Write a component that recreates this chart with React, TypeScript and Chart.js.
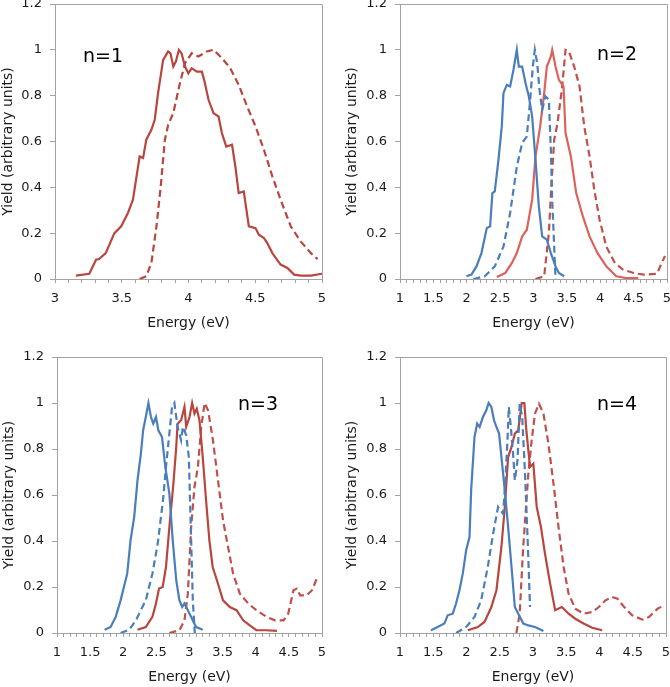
import React, { useEffect, useRef } from 'react';
import { Chart, registerables } from 'chart.js';

Chart.register(...registerables);

type Pt = [number, number];

// ---------- data (Energy eV, Yield) ----------
const n1RedSolid: Pt[] = [[3.156,0.015],[3.257,0.023],[3.307,0.084],[3.33,0.087],[3.38,0.113],[3.445,0.2],[3.496,0.23],[3.546,0.288],[3.584,0.346],[3.634,0.535],[3.66,0.528],[3.684,0.608],[3.722,0.651],[3.747,0.695],[3.772,0.811],[3.81,0.956],[3.848,0.993],[3.865,0.985],[3.886,0.927],[3.906,0.95],[3.928,1.0],[3.948,0.985],[3.974,0.927],[3.999,0.898],[4.024,0.92],[4.062,0.905],[4.1,0.905],[4.117,0.869],[4.15,0.782],[4.187,0.724],[4.225,0.709],[4.25,0.637],[4.283,0.578],[4.326,0.586],[4.351,0.491],[4.376,0.375],[4.414,0.382],[4.452,0.23],[4.502,0.222],[4.527,0.193],[4.565,0.179],[4.59,0.157],[4.628,0.113],[4.69,0.063],[4.741,0.048],[4.791,0.019],[4.84,0.015],[4.917,0.015],[5.0,0.023]];
const n1RedDashed: Pt[] = [[3.634,0],[3.684,0.012],[3.722,0.07],[3.76,0.23],[3.792,0.404],[3.823,0.608],[3.848,0.673],[3.886,0.724],[3.936,0.855],[3.974,0.942],[4.024,0.985],[4.074,0.971],[4.137,0.993],[4.187,1.0],[4.25,0.964],[4.313,0.92],[4.376,0.847],[4.439,0.753],[4.502,0.666],[4.565,0.564],[4.628,0.448],[4.69,0.346],[4.766,0.23],[4.84,0.164],[4.917,0.113],[4.967,0.087]];

const n2BlueSolid: Pt[] = [[1.995,0.012],[2.07,0.019],[2.146,0.055],[2.22,0.113],[2.3,0.222],[2.35,0.23],[2.384,0.375],[2.42,0.382],[2.475,0.52],[2.525,0.666],[2.55,0.811],[2.6,0.847],[2.65,0.84],[2.7,0.913],[2.75,1.0],[2.78,0.927],[2.83,0.927],[2.88,0.855],[2.93,0.797],[2.98,0.709],[3.03,0.52],[3.08,0.317],[3.13,0.186],[3.2,0.172],[3.26,0.113],[3.33,0.055],[3.38,0.026],[3.46,0.012]];
const n2BlueDashed: Pt[] = [[2.1,0],[2.27,0.012],[2.42,0.055],[2.55,0.142],[2.65,0.288],[2.75,0.49],[2.83,0.593],[2.9,0.622],[2.95,0.782],[2.99,0.927],[3.02,1.0],[3.055,0.942],[3.09,0.826],[3.13,0.738],[3.18,0.797],[3.23,0.782],[3.26,0.564],[3.28,0.346],[3.31,0.142],[3.33,0]];
const n2RedSolid: Pt[] = [[2.45,0.009],[2.576,0.026],[2.677,0.07],[2.75,0.113],[2.83,0.186],[2.9,0.215],[2.98,0.346],[3.03,0.535],[3.1,0.666],[3.16,0.811],[3.2,0.927],[3.26,0.971],[3.28,1.0],[3.33,0.927],[3.38,0.869],[3.45,0.84],[3.48,0.637],[3.56,0.535],[3.64,0.375],[3.74,0.273],[3.84,0.186],[3.96,0.113],[4.09,0.055],[4.24,0.012],[4.39,0.004],[4.57,0.004]];
const n2RedDashed: Pt[] = [[3.03,0],[3.16,0.012],[3.23,0.2],[3.27,0.419],[3.31,0.608],[3.36,0.68],[3.43,0.84],[3.48,1.0],[3.53,0.993],[3.61,0.927],[3.69,0.84],[3.76,0.666],[3.84,0.535],[3.91,0.39],[3.99,0.259],[4.09,0.142],[4.22,0.07],[4.34,0.041],[4.5,0.026],[4.65,0.019],[4.85,0.023],[4.92,0.07],[4.97,0.1]];

const n3BlueSolid: Pt[] = [[1.72,0.014],[1.81,0.026],[1.886,0.07],[1.96,0.142],[2.01,0.2],[2.06,0.258],[2.11,0.403],[2.165,0.504],[2.215,0.664],[2.266,0.78],[2.3,0.881],[2.34,0.939],[2.38,1.0],[2.418,0.939],[2.453,0.91],[2.494,0.939],[2.53,0.881],[2.585,0.852],[2.635,0.722],[2.696,0.606],[2.747,0.403],[2.8,0.229],[2.848,0.142],[2.89,0.113],[2.924,0.128],[2.975,0.099],[3.025,0.07],[3.1,0.026],[3.2,0.014]];
const n3BlueDashed: Pt[] = [[1.96,0],[2.09,0.014],[2.19,0.055],[2.34,0.142],[2.44,0.258],[2.52,0.388],[2.6,0.577],[2.645,0.722],[2.696,0.867],[2.737,0.983],[2.772,1.0],[2.82,0.896],[2.873,0.838],[2.9,0.896],[2.95,0.86],[2.99,0.765],[3.025,0.403],[3.05,0.142],[3.08,0]];
const n3RedSolid: Pt[] = [[2.215,0.014],[2.34,0.026],[2.44,0.07],[2.494,0.128],[2.54,0.193],[2.595,0.2],[2.645,0.287],[2.696,0.46],[2.757,0.649],[2.8,0.809],[2.82,0.91],[2.873,0.925],[2.924,0.983],[2.95,0.896],[3.0,0.939],[3.04,1.0],[3.075,0.954],[3.11,0.975],[3.15,0.925],[3.2,0.765],[3.25,0.577],[3.3,0.403],[3.35,0.287],[3.43,0.214],[3.506,0.142],[3.608,0.113],[3.71,0.099],[3.81,0.055],[3.91,0.033],[4.01,0.012],[4.16,0.012],[4.32,0.009]];
const n3RedDashed: Pt[] = [[2.696,0],[2.85,0.012],[2.924,0.055],[2.975,0.171],[3.025,0.46],[3.075,0.635],[3.127,0.722],[3.177,0.896],[3.228,1.0],[3.28,0.968],[3.354,0.838],[3.43,0.664],[3.506,0.49],[3.582,0.374],[3.658,0.258],[3.76,0.171],[3.886,0.128],[4.01,0.099],[4.165,0.07],[4.29,0.055],[4.42,0.055],[4.49,0.084],[4.57,0.186],[4.62,0.193],[4.67,0.164],[4.77,0.164],[4.85,0.186],[4.92,0.236]];

const n4BlueSolid: Pt[] = [[1.465,0.012],[1.566,0.026],[1.667,0.041],[1.717,0.077],[1.793,0.084],[1.843,0.128],[1.894,0.186],[1.944,0.258],[1.995,0.36],[2.045,0.417],[2.07,0.62],[2.12,0.852],[2.16,0.91],[2.197,0.896],[2.247,0.939],[2.298,0.968],[2.333,1.0],[2.374,0.983],[2.414,0.925],[2.45,0.896],[2.49,0.867],[2.525,0.765],[2.576,0.62],[2.626,0.46],[2.677,0.287],[2.727,0.113],[2.778,0.084],[2.854,0.041],[2.93,0.033],[3.03,0.026],[3.157,0.009]];
const n4BlueDashed: Pt[] = [[1.843,0],[1.995,0.026],[2.12,0.07],[2.22,0.142],[2.32,0.287],[2.4,0.432],[2.475,0.548],[2.55,0.519],[2.586,0.664],[2.616,0.838],[2.636,0.983],[2.667,0.896],[2.7,0.78],[2.727,0.664],[2.767,0.75],[2.8,0.997],[2.838,0.939],[2.88,0.693],[2.92,0.403],[2.955,0.113]];
const n4RedSolid: Pt[] = [[2.02,0.012],[2.17,0.026],[2.27,0.048],[2.374,0.113],[2.45,0.186],[2.525,0.374],[2.576,0.548],[2.626,0.765],[2.677,0.809],[2.727,0.867],[2.778,0.881],[2.83,1.0],[2.87,1.0],[2.9,0.881],[2.955,0.722],[3.005,0.736],[3.056,0.548],[3.12,0.46],[3.18,0.345],[3.258,0.214],[3.333,0.099],[3.434,0.113],[3.535,0.084],[3.636,0.062],[3.76,0.041],[3.89,0.023],[4.04,0.012]];
const n4RedDashed: Pt[] = [[2.75,0],[2.8,0.084],[2.85,0.36],[2.93,0.693],[2.98,0.838],[3.03,0.954],[3.09,0.997],[3.157,0.954],[3.232,0.823],[3.308,0.65],[3.384,0.46],[3.46,0.287],[3.535,0.171],[3.636,0.106],[3.76,0.084],[3.89,0.091],[3.99,0.113],[4.09,0.142],[4.19,0.157],[4.27,0.149],[4.37,0.113],[4.49,0.077],[4.646,0.058],[4.747,0.07],[4.874,0.106],[4.975,0.12]];

const panelLabels = ['n=1', 'n=2', 'n=3', 'n=4'];
const xRanges: Pt[] = [[3, 5], [1, 5], [1, 5], [1, 5]];
const yRange: Pt = [0, 1.2];
const yStep = 0.2;
const xMinorStep = 0.1;
const xMajorStep = 0.5;
const xTitle = 'Energy (eV)';
const yTitle = 'Yield (arbitrary units)';

// ---------- styles ----------
const FONT = "'DejaVu Sans', sans-serif";
const AXIS = '#a3a3a3';
const TEXT = '#1a1a1a';
const BLUE = '#4a7ebb';
const RED_DARK = '#b9453f';
const RED_LIGHT = '#dc625b';
const RED_DASH = '#bf504b';
const DASH = [7, 4];

interface SeriesSpec { pts: Pt[]; color: string; dashed: boolean; }
interface PanelSpec {
  label: string; xr: Pt;
  left: number; top: number; w: number; h: number;
  area: { l: number; r: number; t: number; b: number };
  yTitlePad: number; xTitlePad: number;
  labelPos: { x: number; y: number };
  series: SeriesSpec[];
}

const PANELS: PanelSpec[] = [
  {
    label: panelLabels[0], xr: xRanges[0], left: 0, top: 0, w: 335, h: 340,
    area: { l: 55, r: 322, t: 4, b: 279 }, yTitlePad: 0, xTitlePad: 8,
    labelPos: { x: 83, y: 55 },
    series: [
      { pts: n1RedSolid, color: RED_DARK, dashed: false },
      { pts: n1RedDashed, color: RED_DARK, dashed: true },
    ],
  },
  {
    label: panelLabels[1], xr: xRanges[1], left: 335, top: 0, w: 335, h: 340,
    area: { l: 65, r: 332, t: 4, b: 279 }, yTitlePad: 9, xTitlePad: 8,
    labelPos: { x: 597, y: 53 },
    series: [
      { pts: n2BlueSolid, color: BLUE, dashed: false },
      { pts: n2BlueDashed, color: BLUE, dashed: true },
      { pts: n2RedSolid, color: RED_LIGHT, dashed: false },
      { pts: n2RedDashed, color: RED_DASH, dashed: true },
    ],
  },
  {
    label: panelLabels[2], xr: xRanges[2], left: 0, top: 340, w: 335, h: 347,
    area: { l: 57, r: 322, t: 17, b: 293 }, yTitlePad: 1, xTitlePad: 1,
    labelPos: { x: 238, y: 403 },
    series: [
      { pts: n3BlueSolid, color: BLUE, dashed: false },
      { pts: n3BlueDashed, color: BLUE, dashed: true },
      { pts: n3RedSolid, color: RED_DARK, dashed: false },
      { pts: n3RedDashed, color: RED_DASH, dashed: true },
    ],
  },
  {
    label: panelLabels[3], xr: xRanges[3], left: 335, top: 340, w: 335, h: 347,
    area: { l: 65, r: 331, t: 17, b: 293 }, yTitlePad: 9, xTitlePad: 1,
    labelPos: { x: 597, y: 403 },
    series: [
      { pts: n4BlueSolid, color: BLUE, dashed: false },
      { pts: n4BlueDashed, color: BLUE, dashed: true },
      { pts: n4RedSolid, color: RED_DARK, dashed: false },
      { pts: n4RedDashed, color: RED_DASH, dashed: true },
    ],
  },
];

const framePlugin = {
  id: 'frame',
  beforeDatasetsDraw(chart: any) {
    const { ctx, chartArea: a } = chart;
    ctx.save();
    ctx.strokeStyle = AXIS;
    ctx.lineWidth = 1;
    ctx.beginPath();
    const t = Math.round(a.top) + 0.5;
    const r = Math.round(a.right) + 0.5;
    ctx.moveTo(a.left, t);
    ctx.lineTo(r, t);
    ctx.lineTo(r, a.bottom);
    ctx.stroke();
    ctx.restore();
  },
};

function fmt(v: number): string {
  return String(Math.round(v * 10) / 10);
}

function Panel({ spec }: { spec: PanelSpec }) {
  const ref = useRef<HTMLCanvasElement>(null);
  useEffect(() => {
    if (!ref.current) return;
    const { area, w, h } = spec;
    const chart = new Chart(ref.current, {
      type: 'line',
      data: {
        datasets: spec.series.map((s) => ({
          data: s.pts.map(([x, y]) => ({ x, y })),
          borderColor: s.color,
          backgroundColor: s.color,
          borderWidth: 2.2,
          borderDash: s.dashed ? DASH : [],
          pointRadius: 0,
          tension: 0,
          fill: false,
        })),
      },
      options: {
        animation: false,
        responsive: false,
        maintainAspectRatio: false,
        events: [],
        layout: { padding: { left: 0, top: area.t, right: w - area.r, bottom: 0 } },
        plugins: { legend: { display: false }, tooltip: { enabled: false }, title: { display: false } },
        scales: {
          x: {
            type: 'linear',
            min: spec.xr[0],
            max: spec.xr[1],
            ticks: {
              stepSize: xMinorStep,
              maxTicksLimit: 200,
              autoSkip: false,
              maxRotation: 0,
              minRotation: 0,
              padding: 8,
              color: TEXT,
              font: { family: FONT, size: 13 },
              callback: (v: any) => {
                const n = Number(v);
                const k = n / xMajorStep;
                return Math.abs(k - Math.round(k)) < 1e-6 ? fmt(n) : '';
              },
            },
            grid: { display: true, drawOnChartArea: false, drawTicks: true, tickLength: 4, tickColor: AXIS, color: AXIS },
            border: { display: true, color: AXIS, width: 1 },
            title: { display: true, text: xTitle, color: TEXT, font: { family: FONT, size: 14 }, padding: { top: 0, bottom: spec.xTitlePad } },
            afterFit: (s: any) => {
              s.height = h - area.b;
              s.paddingLeft = 0;
              s.paddingRight = 0;
            },
          },
          y: {
            type: 'linear',
            min: yRange[0],
            max: yRange[1],
            ticks: {
              stepSize: yStep,
              padding: 8,
              color: TEXT,
              font: { family: FONT, size: 13 },
              callback: (v: any) => fmt(Number(v)),
            },
            grid: { display: true, drawOnChartArea: false, drawTicks: true, tickLength: 5, tickColor: AXIS, color: AXIS },
            border: { display: true, color: AXIS, width: 1 },
            title: { display: true, text: yTitle, color: TEXT, font: { family: FONT, size: 14 }, padding: { top: spec.yTitlePad, bottom: 0 } },
            afterFit: (s: any) => {
              s.width = area.l;
              s.paddingTop = 0;
              s.paddingBottom = 0;
            },
          },
        },
      } as any,
      plugins: [framePlugin],
    });
    return () => chart.destroy();
  }, [spec]);
  return (
    <canvas
      ref={ref}
      width={spec.w}
      height={spec.h}
      style={{ position: 'absolute', left: spec.left, top: spec.top, width: spec.w, height: spec.h }}
    />
  );
}

export default function App() {
  return (
    <div style={{ position: 'absolute', left: 0, top: 0, width: 670, height: 687, background: '#fff', overflow: 'hidden' }}>
      {PANELS.map((p) => (
        <Panel key={p.label} spec={p} />
      ))}
      {PANELS.map((p) => (
        <div
          key={'lbl' + p.label}
          style={{
            position: 'absolute',
            left: p.labelPos.x,
            top: p.labelPos.y - 11,
            height: 22,
            lineHeight: '22px',
            fontFamily: FONT,
            fontSize: 19,
            color: '#000',
            whiteSpace: 'nowrap',
          }}
        >
          {p.label}
        </div>
      ))}
    </div>
  );
}
